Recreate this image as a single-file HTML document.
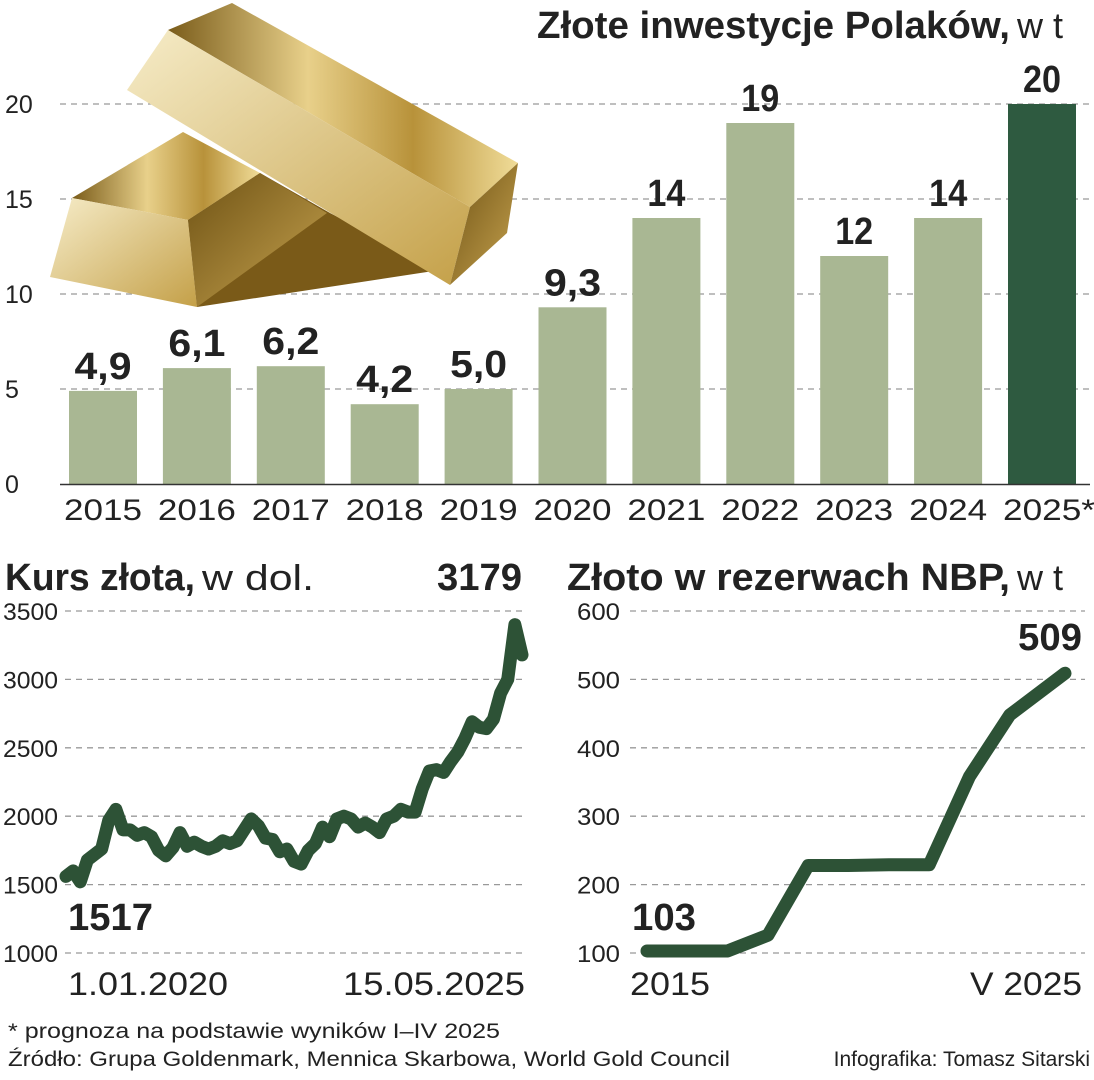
<!DOCTYPE html>
<html><head><meta charset="utf-8"><style>
html,body{margin:0;padding:0;background:#fff}
svg{display:block;font-family:"Liberation Sans",sans-serif}
</style></head><body>
<svg width="1094" height="1080" viewBox="0 0 1094 1080">
<defs>
<linearGradient id="g1" x1="0" y1="0" x2="1" y2="1"><stop offset="0" stop-color="#f3e6b0"/><stop offset="0.5" stop-color="#c9a44a"/><stop offset="1" stop-color="#8a6a20"/></linearGradient>
<linearGradient id="g2" x1="0" y1="0" x2="1" y2="0"><stop offset="0" stop-color="#7a5c1a"/><stop offset="0.4" stop-color="#e8d08a"/><stop offset="0.7" stop-color="#b8923a"/><stop offset="1" stop-color="#f0dc98"/></linearGradient>
<linearGradient id="g3" x1="0" y1="0" x2="1" y2="1"><stop offset="0" stop-color="#f6ecc8"/><stop offset="1" stop-color="#c4a048"/></linearGradient>
<linearGradient id="g4" x1="0" y1="0" x2="1" y2="1"><stop offset="0" stop-color="#6e5214"/><stop offset="1" stop-color="#c8a450"/></linearGradient>
</defs>

<g id="top-chart"></g>
<g>
 <polygon points="188,220 260,173 330,213 440,270 197,307" fill="#7a5a18"/>
 <polygon points="72,198 183,132 260,173 188,220" fill="url(#g2)"/>
 <polygon points="72,198 188,220 197,307 50,277" fill="url(#g3)"/>
 <polygon points="188,220 260,173 327,213 197,307" fill="url(#g4)"/>
 <polygon points="168,30 232,3 518,163 470,207" fill="url(#g2)"/>
 <polygon points="127,90 168,30 470,207 450,285" fill="url(#g3)"/>
 <polygon points="470,207 518,163 507,233 450,285" fill="url(#g4)"/>
</g>
<g id="left-chart"></g>
<g id="right-chart"></g>

<text x="537" y="38" font-size="38" font-weight="bold" fill="#222" textLength="473" lengthAdjust="spacingAndGlyphs">Złote inwestycje Polaków,</text>
<text x="1017" y="38" font-size="36" fill="#222">w t</text>

<text x="5" y="590" font-size="38" font-weight="bold" fill="#222" textLength="190" lengthAdjust="spacingAndGlyphs">Kurs złota,</text>
<text x="202" y="590" font-size="36" fill="#222" textLength="112" lengthAdjust="spacingAndGlyphs">w dol.</text>
<text x="567" y="590" font-size="38" font-weight="bold" fill="#222" textLength="443" lengthAdjust="spacingAndGlyphs">Złoto w rezerwach NBP,</text>
<text x="1017" y="590" font-size="36" fill="#222">w t</text>

<text x="8" y="1038" font-size="21" fill="#222" textLength="492" lengthAdjust="spacingAndGlyphs">* prognoza na podstawie wyników I–IV 2025</text>
<text x="8" y="1066" font-size="21" fill="#222" textLength="722" lengthAdjust="spacingAndGlyphs">Źródło: Grupa Goldenmark, Mennica Skarbowa, World Gold Council</text>
<text x="1090" y="1066" font-size="21" fill="#222" text-anchor="end">Infografika: Tomasz Sitarski</text>
</svg>
<script>
const NS="http://www.w3.org/2000/svg";
const years=["2015","2016","2017","2018","2019","2020","2021","2022","2023","2024","2025*"];
const invest=[4.9,6.1,6.2,4.2,5.0,9.3,14,19,12,14,20];
const investLabels=["4,9","6,1","6,2","4,2","5,0","9,3","14","19","12","14","20"];
const investTicks=[0,5,10,15,20];

const priceValues=[1560,1600,1520,1680,1720,1760,1970,2050,1900,1900,1860,1880,1850,1750,1710,1770,1880,1780,1810,1780,1760,1780,1820,1800,1820,1900,1980,1930,1840,1830,1740,1760,1670,1650,1750,1800,1920,1850,1980,2000,1980,1920,1950,1920,1880,1980,2000,2050,2030,2030,2200,2330,2340,2320,2400,2470,2570,2690,2650,2640,2710,2900,3000,3400,3179];
const priceTicks=[1000,1500,2000,2500,3000,3500];

const nbpYears=[2015,2016,2017,2018,2019,2020,2021,2022,2023,2024,2025.37];
const nbpValues=[103,103,103,126,228,228,229,229,358,448,509];
const nbpTicks=[100,200,300,400,500,600];

function el(tag,attrs,parent,txt){const e=document.createElementNS(NS,tag);for(const k in attrs)e.setAttribute(k,attrs[k]);if(txt!==undefined)e.textContent=txt;parent.appendChild(e);return e;}

// top chart
const topG=document.getElementById('top-chart');
const yT=v=>484-v*19;
const xT=i=>103+i*93.9;
investTicks.forEach(t=>{
 if(t>0){const l=el('line',{x1:60,x2:1090,y1:yT(t),y2:yT(t),stroke:'#999','stroke-width':1.3,'stroke-dasharray':'6,5'},topG);
 
 }
 const tx=el('text',{x:5,y:yT(t)+9,'font-size':25,fill:'#222'},topG,String(t));
 
 
});
invest.forEach((v,i)=>{
 const r=el('rect',{x:xT(i)-34,y:yT(v),width:68,height:yT(0)-yT(v),fill:i===10?'#2e5a40':'#a9b793'},topG);
 
 
 const lab=el('text',{x:xT(i),y:yT(v)-12,'font-size':38,'font-weight':'bold',fill:'#222','text-anchor':'middle'},topG,investLabels[i]);
 lab.setAttribute('textLength',investLabels[i].length*19);
 lab.setAttribute('lengthAdjust','spacingAndGlyphs');
 
 
 const yl=el('text',{x:xT(i)-39,y:520,'font-size':30,fill:'#222'},topG,years[i]);
 yl.setAttribute('textLength',years[i].length===5?92:78);
 yl.setAttribute('lengthAdjust','spacingAndGlyphs');
 
 
});
const ax=el('line',{x1:60,x2:1090,y1:484.5,y2:484.5,stroke:'#333','stroke-width':1.5},topG);



// left chart
const lc=document.getElementById('left-chart');
const yP=v=>953-(v-1000)/500*68.4;
const xP=i=>66+i*(456/(priceValues.length-1));
priceTicks.forEach(t=>{
 const l=el('line',{x1:65,x2:526,y1:yP(t),y2:yP(t),stroke:'#999','stroke-width':1.3,'stroke-dasharray':'6,5'},lc);
 
 
 const tx=el('text',{x:3,y:yP(t)+9,'font-size':24,fill:'#222',textLength:55,lengthAdjust:'spacingAndGlyphs'},lc,String(t));
 
 
});
const pl=el('polyline',{points:priceValues.map((v,i)=>xP(i)+','+yP(v)).join(' '),fill:'none',stroke:'#2d5236','stroke-width':13,'stroke-linejoin':'round','stroke-linecap':'round'},lc);


[[437,590,'3179','price-end-label'],[68,930,'1517','price-start-label']].forEach(a=>{
 const t=el('text',{x:a[0],y:a[1],'font-size':38,'font-weight':'bold',fill:'#222',textLength:85,lengthAdjust:'spacingAndGlyphs'},lc,a[2]);
 
 
});
[[68,995,'1.01.2020',160,'x-start-label'],[343,995,'15.05.2025',182,'x-end-label']].forEach(a=>{
 const t=el('text',{x:a[0],y:a[1],'font-size':32,fill:'#222',textLength:a[3],lengthAdjust:'spacingAndGlyphs'},lc,a[2]);
 
 
});

// right chart
const rc=document.getElementById('right-chart');
const yN=v=>953-(v-100)*0.684;
const xN=y=>647+(y-2015)*(418/10.37);
nbpTicks.forEach(t=>{
 const l=el('line',{x1:630,x2:1085,y1:yN(t),y2:yN(t),stroke:'#999','stroke-width':1.3,'stroke-dasharray':'6,5'},rc);
 
 
 const tx=el('text',{x:577,y:yN(t)+9,'font-size':24,fill:'#222',textLength:43,lengthAdjust:'spacingAndGlyphs'},rc,String(t));
 
 
});
const nl=el('polyline',{points:nbpValues.map((v,i)=>xN(nbpYears[i])+','+yN(v)).join(' '),fill:'none',stroke:'#2d5236','stroke-width':13,'stroke-linejoin':'round','stroke-linecap':'round'},rc);


[[1018,650,'509','reserves-end-label'],[632,930,'103','reserves-start-label']].forEach(a=>{
 const t=el('text',{x:a[0],y:a[1],'font-size':38,'font-weight':'bold',fill:'#222',textLength:64,lengthAdjust:'spacingAndGlyphs'},rc,a[2]);
 
 
});
[[630,995,'2015',80,'x-start-label'],[970,995,'V 2025',112,'x-end-label']].forEach(a=>{
 const t=el('text',{x:a[0],y:a[1],'font-size':32,fill:'#222',textLength:a[3],lengthAdjust:'spacingAndGlyphs'},rc,a[2]);
 
 
});
</script>
</body></html>
